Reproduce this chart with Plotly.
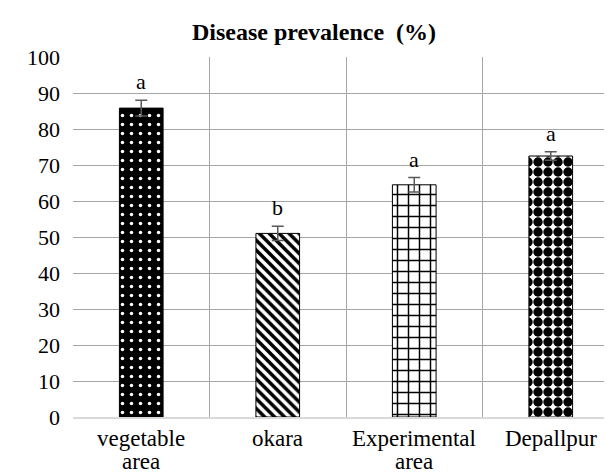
"""Disease prevalence bar chart"""
import plotly.graph_objects as go

CATEGORIES = ["vegetable<br>area", "okara", "Experimental<br>area", "Depallpur"]
PREVALENCE = [85.8, 51.0, 64.5, 72.5]
ERRORS     = [2.2, 2.0, 2.0, 1.2]
LETTERS    = ["a", "b", "a", "a"]

SERIF = "Liberation Serif"

# fill pattern per bar (shape, background, foreground, size, solidity)
PATTERNS = [
    (".",  "black", "white", 9, 0.12),
    ("\\", "white", "black", 7, 0.5),
    ("+",  "white", "black", 11, 0.25),
    (".",  "white", "black", 10, 0.7),
]

fig = go.Figure()
for cat, val, err, (shape, bg, fg, size, sol) in zip(CATEGORIES, PREVALENCE, ERRORS, PATTERNS):
    fig.add_trace(go.Bar(
        x=[cat], y=[val],
        width=0.32,
        marker=dict(
            color=bg,
            line=dict(color="black", width=1),
            pattern=dict(shape=shape, bgcolor=bg, fgcolor=fg, size=size,
                         solidity=sol, fillmode="replace"),
        ),
        error_y=dict(type="data", array=[err], color="#595959",
                     thickness=1.5, width=6),
        showlegend=False,
    ))

# significance letters above the error bars
for cat, val, err, letter in zip(CATEGORIES, PREVALENCE, ERRORS, LETTERS):
    fig.add_annotation(x=cat, y=val + err, text=letter, showarrow=False,
                       yanchor="bottom", yshift=4,
                       font=dict(family=SERIF, size=22, color="black"))

# category labels, one annotation per line (tighter line spacing than ticks)
for cat in CATEGORIES:
    for i, line in enumerate(cat.split("<br>")):
        fig.add_annotation(x=cat, y=0, yref="paper", text=line, showarrow=False,
                           yanchor="middle", yshift=-21 - 23 * i,
                           font=dict(family=SERIF, size=23, color="black"))

fig.update_layout(
    width=612, height=474,
    barmode="overlay",
    title=dict(text="<b>Disease prevalence  (%)</b>", x=0.5, xanchor="center",
               y=0.95, yanchor="middle",
               font=dict(family=SERIF, size=24, color="black")),
    plot_bgcolor="white", paper_bgcolor="white",
    font=dict(family=SERIF, size=22, color="black"),
    margin=dict(l=65, r=1, t=49, b=65),
    xaxis=dict(tickson="boundaries", showgrid=True, gridcolor="#a6a6a6",
               gridwidth=1, ticks="", showline=True, linecolor="#d9d9d9",
               linewidth=1.5, showticklabels=False),
    yaxis=dict(range=[0, 100], dtick=10, showgrid=True, gridcolor="#a6a6a6",
               gridwidth=1, zeroline=False, ticks="",
               ticklabelstandoff=12, tickfont=dict(family=SERIF, size=22)),
)

fig.write_html("out.html")
